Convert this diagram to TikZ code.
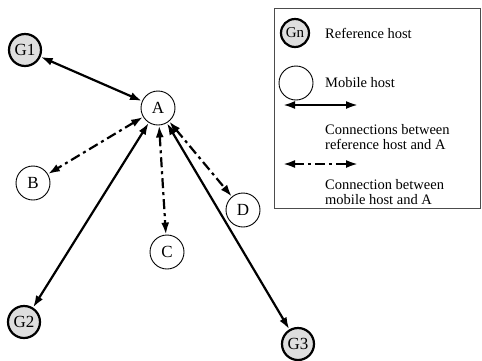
\documentclass[tikz,border=0pt]{standalone}
\usepackage{fontspec}
\setmainfont{Liberation Serif}
\usetikzlibrary{arrows.meta, positioning}

\tikzset{
  refhost/.style={circle, draw, line width=2.2pt, fill=black!13, minimum size=32pt, inner sep=0pt, font=\fontsize{17}{17}\selectfont},
  mobhost/.style={circle, draw, line width=0.9pt, minimum size=34pt, inner sep=0pt, font=\fontsize{17}{17}\selectfont},
  refconn/.style={{Latex[length=12pt,width=8pt]}-{Latex[length=12pt,width=8pt]}, line width=2.2pt},
  mobconn/.style={refconn, dash pattern=on 10pt off 4pt on 3pt off 4pt},
  legtext/.style={anchor=west, align=left, inner sep=0pt},
}

\begin{document}
\begin{tikzpicture}[x=1pt, y=-1pt, font=\fontsize{14.5}{15}\selectfont]
\useasboundingbox (0,0) rectangle (482,360);

% Reference hosts
\node[refhost] (g1) at (25,50) {G1};
\node[refhost] (g2) at (24,322) {G2};
\node[refhost] (g3) at (298,344) {G3};

% Mobile hosts
\node[mobhost] (a) at (158,108) {A};
\node[mobhost] (b) at (33,183) {B};
\node[mobhost] (c) at (167,252) {C};
\node[mobhost] (d) at (243,210) {D};

% Connections
\draw[refconn] (g1) -- (a);
\draw[refconn] (a) -- (g2);
\draw[refconn] (a) -- (g3);
\draw[mobconn] (a) -- (b);
\draw[mobconn] (a) -- (c);
\draw[mobconn] (a) -- (d);

% Legend
\draw[line width=0.8pt, black!70] (274,8) rectangle (480,208);
\node[refhost, minimum size=28pt, font=\fontsize{15}{15}\selectfont] (lgref) at (295,33) {Gn};
\node[legtext] (lgreftext) at (325,33) {Reference host};
\node[mobhost] (lgmob) at (296,83) {};
\node[legtext] (lgmobtext) at (325,83) {Mobile host};
\coordinate (lgrefl) at (283,105);
\coordinate (lgrefr) at (358,105);
\draw[refconn] (lgrefl) -- (lgrefr);
\node[legtext] (lgrefconn) at (325,137.5) {Connections between\\reference host and A};
\coordinate (lgmobl) at (283,164);
\coordinate (lgmobr) at (358,164);
\draw[mobconn] (lgmobl) -- (lgmobr);
\node[legtext] (lgmobconn) at (325,192.5) {Connection between\\mobile host and A};
\end{tikzpicture}
\end{document}
